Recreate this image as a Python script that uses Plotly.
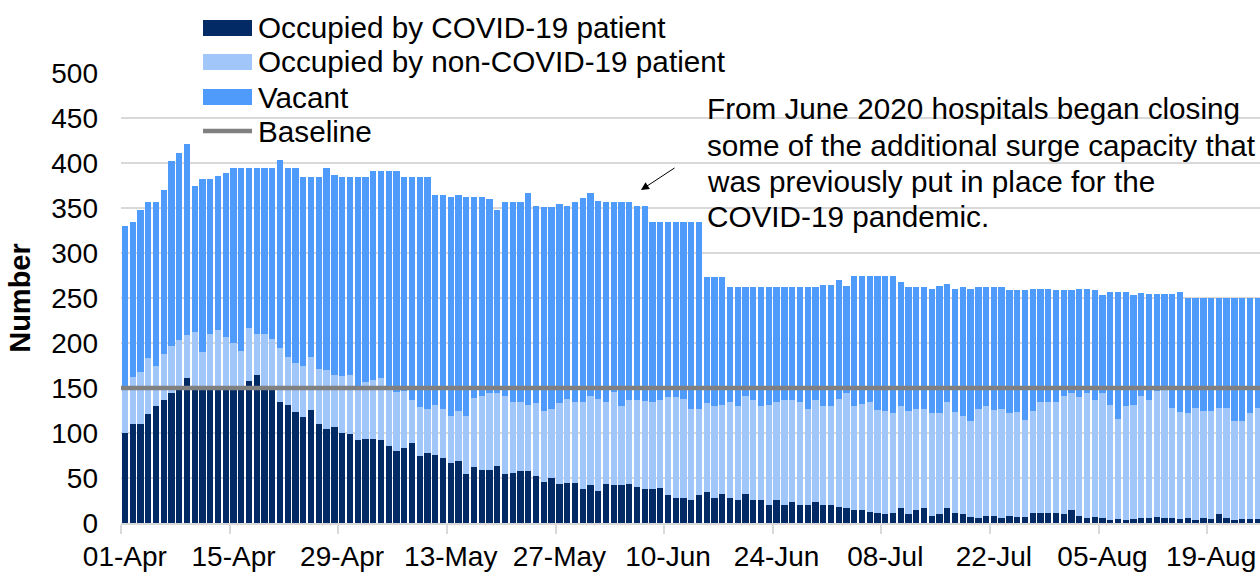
import plotly.graph_objects as go
import pandas as pd

# ---------------- data ----------------
start_date = "2020-04-01"

covid = [
    100, 110, 110, 121, 130, 137, 144, 150, 161, 151, 150, 150, 150, 151, 150, 149, 158, 164, 150, 150, 134, 131, 123, 118,
    126, 110, 104, 107, 100, 99, 92, 93, 93, 92, 86, 80, 83, 89, 75, 78, 76, 72, 67, 69, 55, 62, 59, 59, 63,
    55, 56, 58, 58, 52, 46, 50, 43, 45, 45, 38, 42, 36, 43, 42, 42, 43, 40, 38, 38, 39, 31, 28, 28,
    26, 31, 35, 28, 32, 28, 26, 32, 26, 26, 20, 26, 20, 23, 20, 20, 23, 20, 20,
    18, 17, 14, 15, 12, 11, 10, 11, 17, 10, 14, 17, 8, 10, 17, 11, 10, 7, 6, 8, 8, 6,
    8, 7, 7, 11, 11, 11, 11, 10, 14, 8, 6, 7, 6, 3, 4, 3, 4, 6, 6, 7, 6, 6,
    4, 6, 3, 6, 4, 10, 6, 3, 4, 4, 4,
]

non_covid = [
    50, 52, 58, 62, 45, 51, 53, 53, 48, 61, 40, 60, 64, 56, 50, 42, 59, 46, 60, 54, 60, 54, 55, 57,
    59, 61, 66, 58, 63, 65, 57, 64, 66, 69, 62, 66, 64, 48, 54, 49, 55, 55, 52, 55, 64, 77, 82, 85, 81,
    86, 78, 76, 73, 81, 78, 77, 90, 93, 89, 96, 99, 102, 92, 104, 88, 94, 97, 98, 97, 98, 109, 112, 110,
    101, 96, 98, 102, 99, 106, 104, 109, 111, 104, 111, 108, 117, 114, 114, 107, 114, 110, 110,
    120, 127, 116, 117, 122, 115, 114, 111, 113, 114, 113, 110, 114, 112, 117, 112, 109, 106, 121, 122, 118, 121, 114,
    116, 108, 113, 123, 123, 124, 131, 130, 132, 138, 130, 138, 128, 112, 127, 127, 135, 131, 140, 143,
    122, 119, 116, 125, 118, 120, 118, 122, 110, 109, 118, 124,
]

vacant = [
    180, 173, 180, 174, 182, 182, 205, 208, 212, 162, 192, 172, 172, 182, 195, 204, 178, 185, 185, 191, 209, 209, 216, 209,
    200, 213, 224, 222, 222, 221, 236, 228, 232, 230, 243, 245, 237, 247, 255, 257, 233, 237, 243, 240, 243, 223, 221, 216, 204,
    216, 223, 223, 236, 219, 227, 224, 221, 214, 223, 227, 226, 220, 222, 211, 227, 220, 215, 216, 199, 198, 195, 194, 196,
    208, 208, 140, 143, 142, 128, 132, 121, 125, 132, 131, 128, 125, 125, 128, 135, 125, 134, 134,
    132, 119, 145, 143, 141, 149, 151, 153, 138, 138, 135, 135, 138, 141, 132, 137, 143, 147, 135, 132, 136, 135, 137,
    136, 144, 136, 126, 126, 124, 118, 115, 120, 116, 122, 109, 126, 141, 127, 122, 115, 117, 107, 105,
    126, 134, 128, 122, 126, 126, 122, 122, 137, 137, 128, 122,
]

baseline = 150

series_names = [
    "Occupied by COVID-19 patient",
    "Occupied by non-COVID-19 patient",
    "Vacant",
    "Baseline",
]
y_title = "Number"
note_lines = [
    "From June 2020 hospitals began closing",
    "some of the additional surge capacity that",
    "was previously put in place for the",
    "COVID-19 pandemic.",
]

assert len(covid) == len(non_covid) == len(vacant)

# ---------------- styling ----------------
C_COVID = "#022B65"
C_NONCOVID = "#A0C6FA"
C_VACANT = "#4F9BFC"
C_BASE = "#808080"
C_GRID = "#D9D9D9"
FONT = "Liberation Sans, Arial, sans-serif"
FS = 28      # axis text
FS_TXT = 29.7  # legend / note text

dates = pd.date_range(start_date, periods=len(covid), freq="D")
DAY_MS = 86400000

fig = go.Figure()
for vals, name, col in [(covid, series_names[0], C_COVID),
                        (non_covid, series_names[1], C_NONCOVID),
                        (vacant, series_names[2], C_VACANT)]:
    fig.add_trace(go.Bar(x=dates, y=vals, name=name, marker=dict(color=col, line=dict(width=0)),
                         showlegend=False))

# plot geometry (pixels)
W, H = 1260, 574
L, R, T, B = 121, 0, 73, 51
PW, PH = W - L - R, H - T - B


def px(xp):
    return (xp - L) / PW


def py(yp):
    return (H - B - yp) / PH


x_end = dates[-1] + pd.Timedelta(hours=7.2)
x_start = dates[0] - pd.Timedelta(hours=12)

shapes = []
# baseline line across the plot
shapes.append(dict(type="line", xref="paper", yref="y", x0=0, x1=1, y0=baseline, y1=baseline,
                   line=dict(color=C_BASE, width=4.5), layer="above"))

# custom legend
leg_y = [28, 62, 97, 131]
for i, col in enumerate([C_COVID, C_NONCOVID, C_VACANT]):
    shapes.append(dict(type="rect", xref="paper", yref="paper",
                       x0=px(203), x1=px(252), y0=py(leg_y[i] + 8), y1=py(leg_y[i] - 8),
                       fillcolor=col, line=dict(width=0)))
shapes.append(dict(type="line", xref="paper", yref="paper", x0=px(203), x1=px(252),
                   y0=py(leg_y[3]), y1=py(leg_y[3]), line=dict(color=C_BASE, width=4.5)))

annotations = []
for i, name in enumerate(series_names):
    annotations.append(dict(xref="paper", yref="paper", x=px(256), y=py(leg_y[i]),
                            xanchor="left", yanchor="middle", text=name, showarrow=False,
                            font=dict(family=FONT, size=FS_TXT, color="#000000")))

note_y = [109, 145, 181, 216]
for line, yv in zip(note_lines, note_y):
    annotations.append(dict(xref="paper", yref="paper", x=px(705), y=py(yv), xanchor="left",
                            yanchor="middle", align="left", text=line, showarrow=False,
                            font=dict(family=FONT, size=FS_TXT, color="#000000")))
annotations.append(dict(xref="paper", yref="paper", x=px(641), y=py(190), text="", showarrow=True,
                        ax=35, ay=-23, axref="pixel", ayref="pixel",
                        arrowhead=2, arrowsize=1.6, arrowwidth=1, arrowcolor="#000000"))

fig.update_layout(
    width=W, height=H,
    margin=dict(l=L, r=R, t=T, b=B, pad=0),
    barmode="stack", bargap=0.19,
    plot_bgcolor="white", paper_bgcolor="white",
    font=dict(family=FONT, size=FS, color="#000000"),
    shapes=shapes, annotations=annotations,
    showlegend=False,
    xaxis=dict(
        type="date", range=[x_start, x_end],
        tick0=start_date, dtick=14 * DAY_MS, tickformat="%d-%b",
        ticks="", showgrid=False, showline=True, linecolor=C_GRID, linewidth=1.5,
        tickfont=dict(family=FONT, size=FS, color="#000000"),
        ticklabelstandoff=8,
        minor=dict(ticks="outside", ticklen=9, tickcolor=C_GRID, tickwidth=1.5,
                   tick0=x_start, dtick=14 * DAY_MS, showgrid=False),
    ),
    yaxis=dict(
        range=[0, 500], dtick=50, tick0=0,
        showgrid=True, gridcolor=C_GRID, gridwidth=1.5, zeroline=False, showline=False,
        ticks="", tickfont=dict(family=FONT, size=FS, color="#000000"),
        ticklabelstandoff=22,
        title=dict(text="<b>" + y_title + "</b>", font=dict(family=FONT, size=29, color="#000000"),
                   standoff=12),
    ),
)

fig.write_html("out.html", config={"displayModeBar": False},
               post_script="document.body.style.margin='0';document.body.style.overflow='hidden';")
